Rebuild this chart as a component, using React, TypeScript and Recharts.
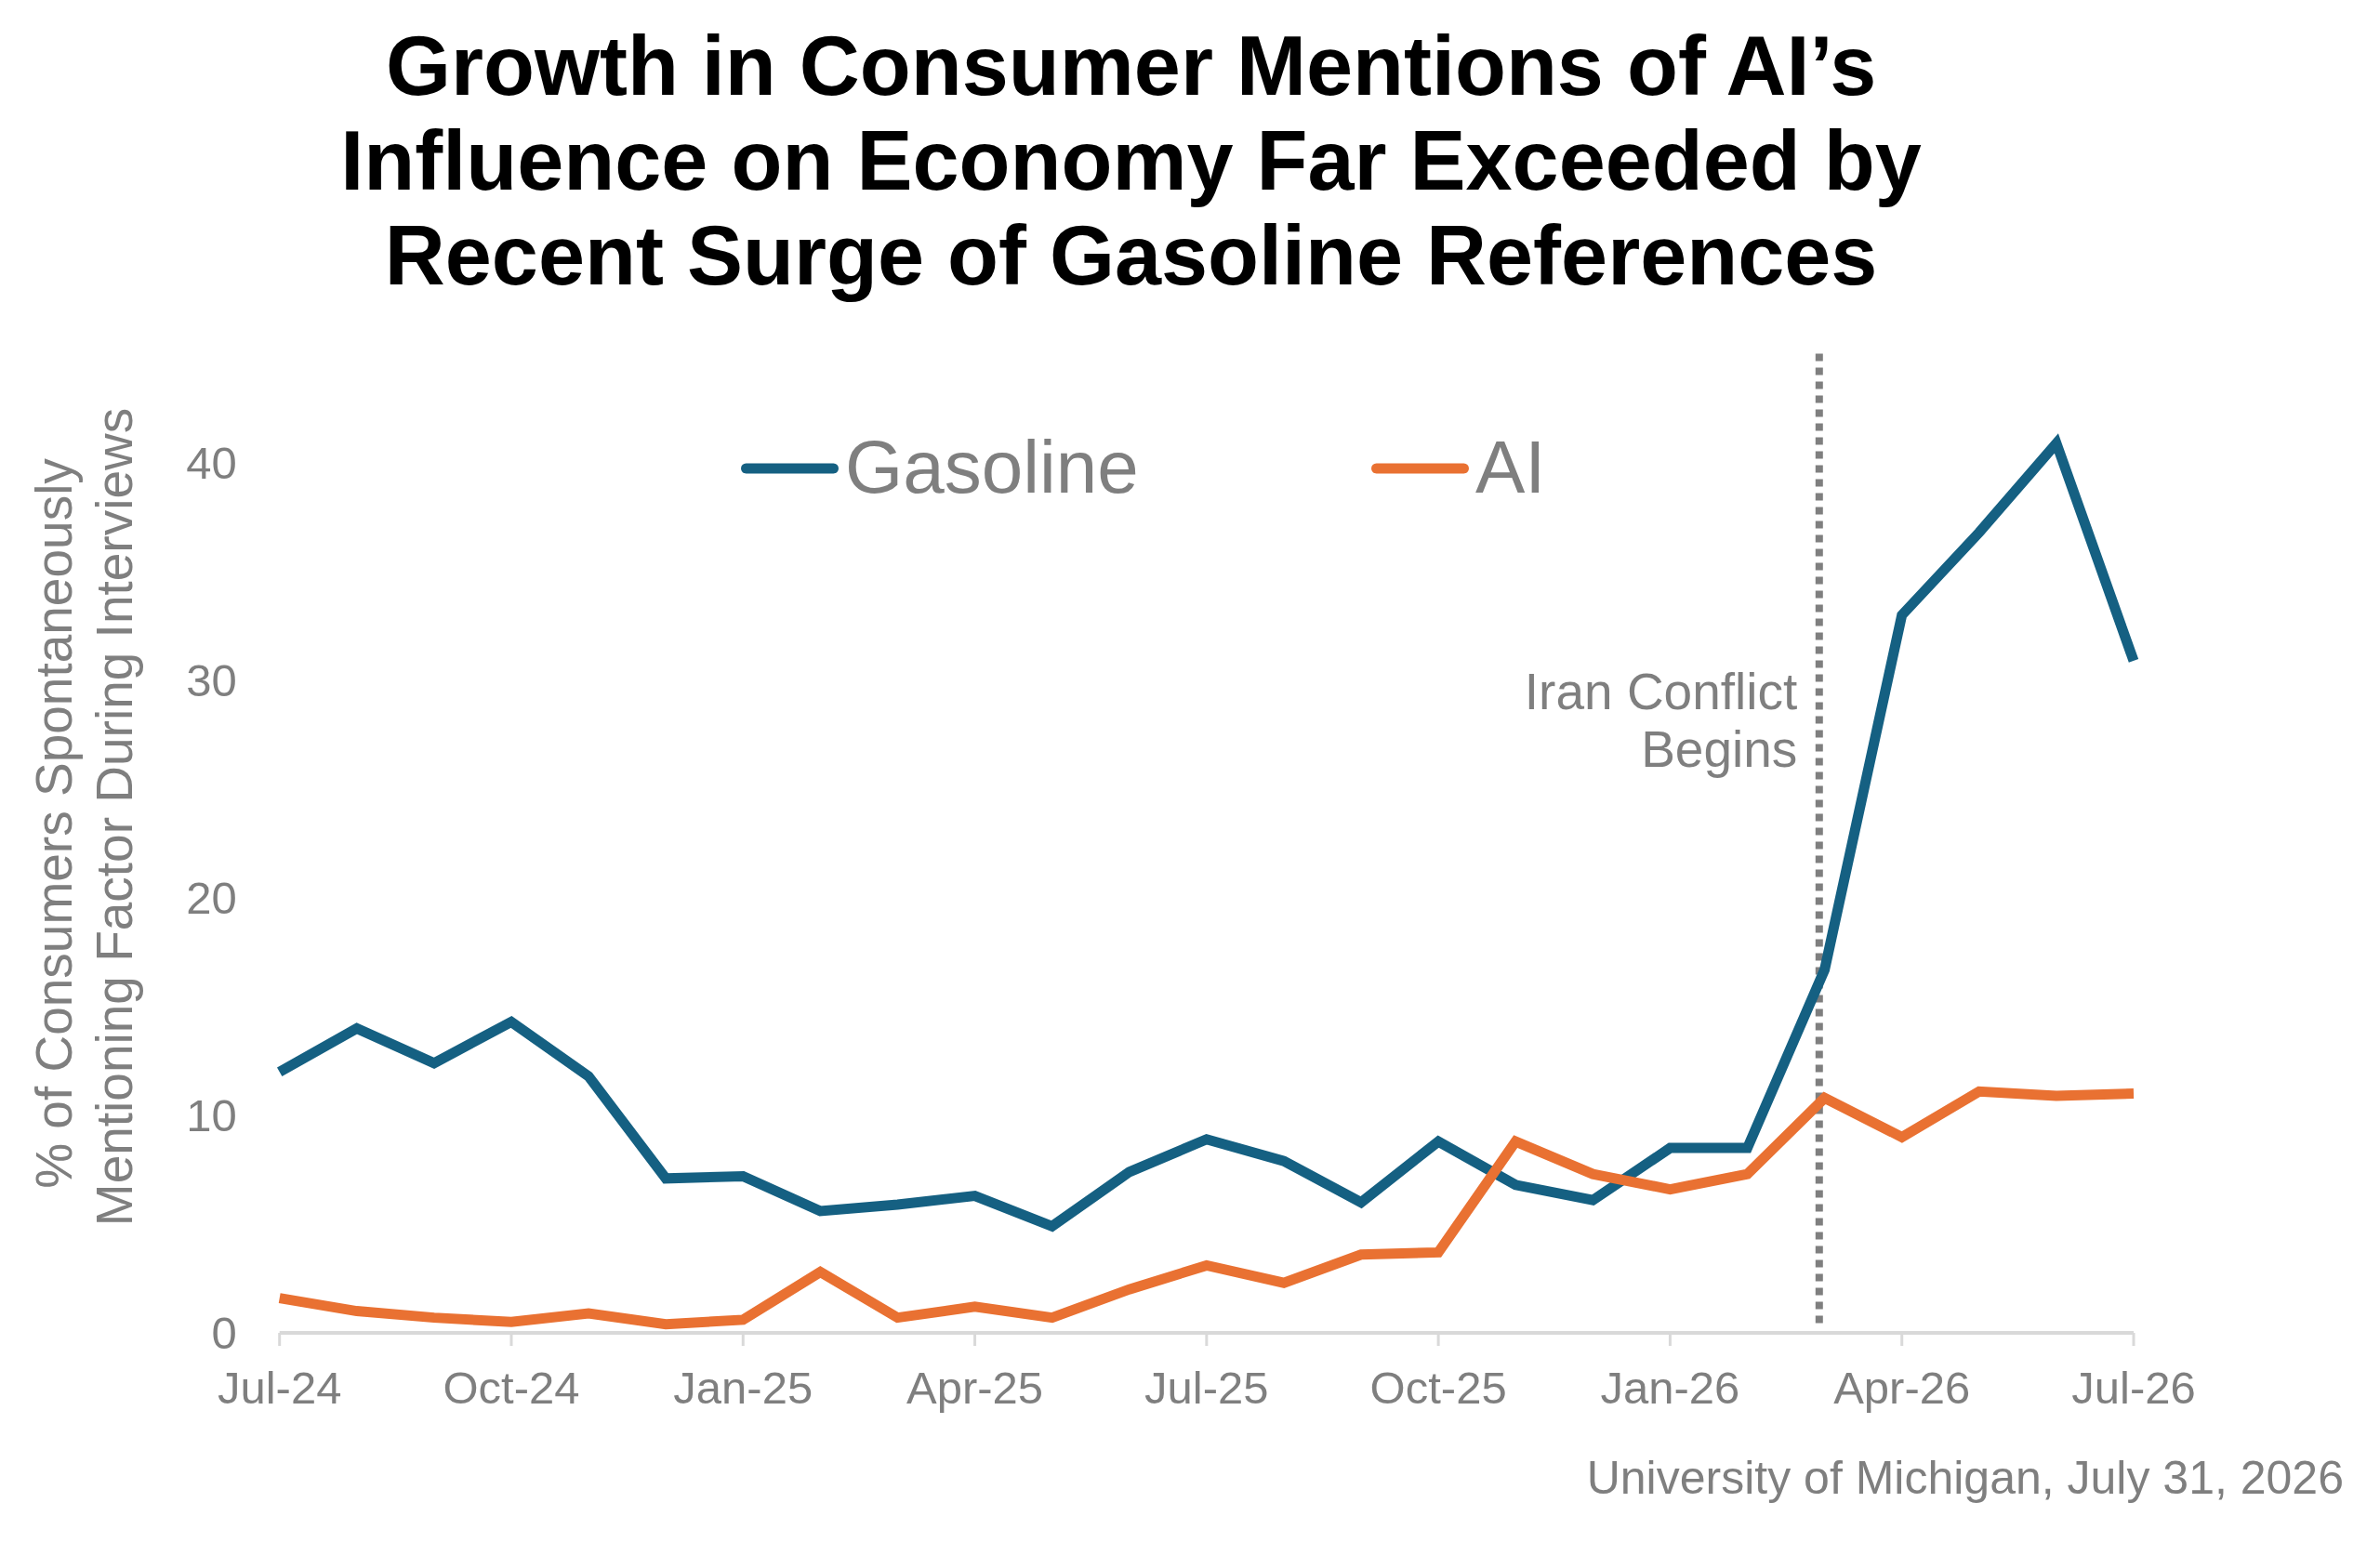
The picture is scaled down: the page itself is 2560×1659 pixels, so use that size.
import React from 'react';
import { LineChart, Line, XAxis, YAxis, ReferenceLine, Legend } from 'recharts';

const months = [
  'Jul-24', 'Aug-24', 'Sep-24', 'Oct-24', 'Nov-24', 'Dec-24',
  'Jan-25', 'Feb-25', 'Mar-25', 'Apr-25', 'May-25', 'Jun-25',
  'Jul-25', 'Aug-25', 'Sep-25', 'Oct-25', 'Nov-25', 'Dec-25',
  'Jan-26', 'Feb-26', 'Mar-26', 'Apr-26', 'May-26', 'Jun-26', 'Jul-26',
];
const gasoline = [
  12.0, 14.0, 12.4, 14.3, 11.8, 7.1,
  7.2, 5.6, 5.9, 6.3, 4.9, 7.4,
  8.9, 7.9, 6.0, 8.8, 6.8, 6.1,
  8.5, 8.5, 16.7, 33.0, 36.8, 40.9, 30.9,
];
const ai = [
  1.6, 1.0, 0.7, 0.5, 0.9, 0.4,
  0.6, 2.8, 0.7, 1.2, 0.7, 2.0,
  3.1, 2.3, 3.6, 3.7, 8.8, 7.3,
  6.6, 7.3, 10.8, 9.0, 11.1, 10.9, 11.0,
];
const seriesOrder = ['gasoline', 'ai'];
const xTickIndexes = [0, 3, 6, 9, 12, 15, 18, 21, 24];
const yTicks = [0, 10, 20, 30, 40];
const conflictStart = 19.93; // position on month axis (end of Feb-26)
const titleLines = [
  'Growth in Consumer Mentions of AI\u2019s',
  'Influence on Economy Far Exceeded by',
  'Recent Surge of Gasoline References',
];
const yLabelLines = ['% of Consumers Spontaneously', 'Mentioning Factor During Interviews'];
const annotationLines = ['Iran Conflict', 'Begins'];
const sourceText = 'University of Michigan, July 31, 2026';

const W = 2544;
const H = 1643;
const FONT = "'Liberation Sans', Arial, Helvetica, sans-serif";
const GRAY = '#7f7f7f';
const GAS_COLOR = '#156082';
const AI_COLOR = '#E97132';

const data = months.map((m, i) => ({ idx: i, month: m, gasoline: gasoline[i], ai: ai[i] }));

function renderLegend(props: any) {
  const payload = [...(props.payload || [])].sort(
    (a: any, b: any) => seriesOrder.indexOf(a.dataKey) - seriesOrder.indexOf(b.dataKey)
  );
  return (
    <svg width={900} height={120} style={{ overflow: 'visible', display: 'block' }}>
      {payload.map((entry: any, i: number) => {
        const x0 = i * 678;
        return (
          <g key={entry.value}>
            <line x1={x0 + 5.5} x2={x0 + 99.5} y1={76} y2={76} stroke={entry.color} strokeWidth={11} strokeLinecap="round" />
            <text x={x0 + 112} y={102} fontSize={80} fill={GRAY} fontFamily={FONT}>
              {entry.value}
            </text>
          </g>
        );
      })}
    </svg>
  );
}

function renderIranLabel(props: any) {
  const vb = props.viewBox || {};
  const x = (vb.x || 0) - 23.5;
  const y = vb.y || 0;
  return (
    <text textAnchor="end" fontSize={55} fill={GRAY} fontFamily={FONT}>
      {annotationLines.map((t, i) => (
        <tspan key={t} x={x} y={y + 388.5 + i * 62.3}>
          {t}
        </tspan>
      ))}
    </text>
  );
}

export default function App() {
  return (
    <div style={{ position: 'relative', width: W, height: H, background: '#ffffff', fontFamily: FONT }}>
      <LineChart width={W} height={H} data={data} margin={{ top: 366, right: 257, bottom: 117, left: 192.7 }}>
        <XAxis
          dataKey="idx"
          type="number"
          domain={[0, 24]}
          ticks={xTickIndexes}
          interval={0}
          tickFormatter={(v: number) => months[v]}
          axisLine={{ stroke: '#d9d9d9', strokeWidth: 4 }}
          tickLine={{ stroke: '#d9d9d9', strokeWidth: 3 }}
          tickSize={14}
          tickMargin={27}
          height={100}
          tick={{ fill: GRAY, fontSize: 49, fontFamily: FONT }}
        />
        <YAxis
          type="number"
          domain={[0, 45.3]}
          ticks={yTicks}
          width={100}
          axisLine={false}
          tickLine={false}
          tickSize={0}
          tickMargin={46}
          allowDataOverflow
          tick={{ fill: GRAY, fontSize: 49, fontFamily: FONT }}
        />
        <ReferenceLine
          segment={[
            { x: conflictStart, y: 0.45 },
            { x: conflictStart, y: 45.3 },
          ]}
          stroke={GRAY}
          strokeWidth={8}
          strokeDasharray="8 7"
          label={renderIranLabel}
          ifOverflow="visible"
        />
        <Line
          type="linear"
          dataKey="gasoline"
          name="Gasoline"
          stroke={GAS_COLOR}
          strokeWidth={11}
          dot={false}
          activeDot={false}
          isAnimationActive={false}
        />
        <Line
          type="linear"
          dataKey="ai"
          name="AI"
          stroke={AI_COLOR}
          strokeWidth={11}
          dot={false}
          activeDot={false}
          isAnimationActive={false}
        />
        <Legend
          layout="horizontal"
          verticalAlign="middle"
          align="center"
          content={renderLegend}
          wrapperStyle={{ left: 789, top: 420, width: 900, height: 120 }}
        />
      </LineChart>
      <svg
        width={W}
        height={H}
        style={{ position: 'absolute', left: 0, top: 0, pointerEvents: 'none' }}
      >
        {titleLines.map((t, i) => (
          <text
            key={t}
            x={1208.6}
            y={94 + i * 102}
            textAnchor="middle"
            fontSize={90}
            fontWeight="bold"
            fill="#000000"
            fontFamily={FONT}
          >
            {t}
          </text>
        ))}
        <text transform="translate(69, 878) rotate(-90)" textAnchor="middle" fontSize={55} fill={GRAY} fontFamily={FONT}>
          {yLabelLines[0]}
        </text>
        <text transform="translate(133.7, 871) rotate(-90)" textAnchor="middle" fontSize={55} fill={GRAY} fontFamily={FONT}>
          {yLabelLines[1]}
        </text>
        <text x={2513} y={1598.7} textAnchor="end" fontSize={50} fill={GRAY} fontFamily={FONT}>
          {sourceText}
        </text>
      </svg>
    </div>
  );
}
